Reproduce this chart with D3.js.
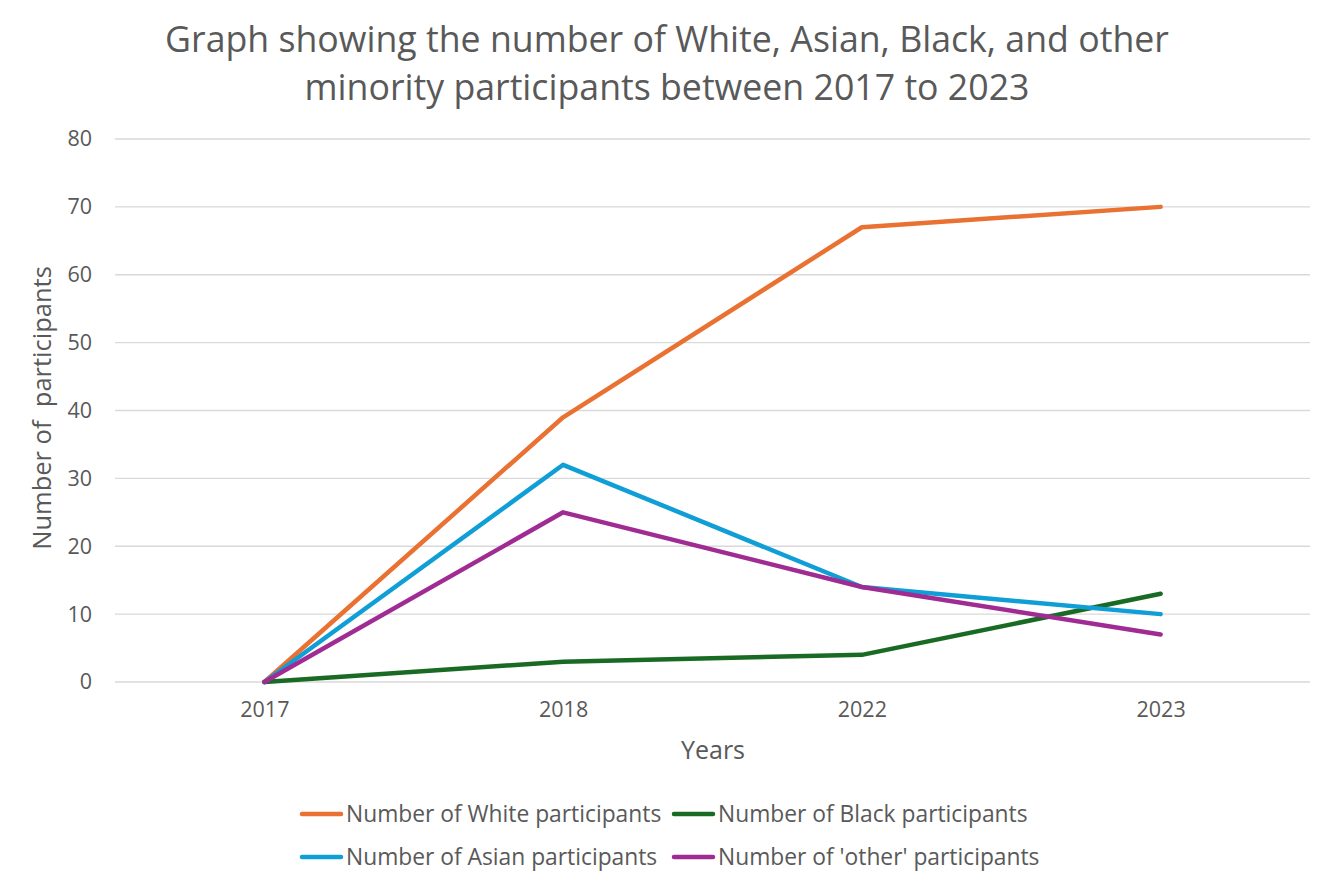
<!DOCTYPE html>
<html>
<head>
<meta charset="utf-8">
<script src="https://cdn.jsdelivr.net/npm/d3@7"></script>
<style>
  body { margin: 0; background: #fff; }
  text { font-family: "Open Sans", "Liberation Sans", sans-serif; fill: #595959; }
</style>
</head>
<body>
<svg id="chart" width="1334" height="889"></svg>
<script>
// categories and series
var years = ["2017", "2018", "2022", "2023"];
var white = [0, 39, 67, 70];
var black = [0, 3, 4, 13];
var asian = [0, 32, 14, 10];
var other = [0, 25, 14, 7];
var yTicks = [0, 10, 20, 30, 40, 50, 60, 70, 80];
var seriesNames = ["Number of White participants", "Number of Black participants",
                   "Number of Asian participants", "Number of 'other' participants"];
var seriesColors = ["#E97132", "#196B24", "#0F9ED5", "#A02B93"];

var svg = d3.select("#chart");
var plotLeft = 115, plotRight = 1310, plotTop = 139, plotBottom = 682;
var fontStack = "\"Open Sans\", \"Liberation Sans\", sans-serif";

var x = d3.scalePoint().domain(years).range([plotLeft, plotRight]).padding(0.5);
var y = d3.scaleLinear().domain([0, 80]).range([plotBottom, plotTop]);

// title
svg.append("text").attr("x", 667).attr("y", 52).attr("text-anchor", "middle")
    .style("font-size", "35.7px").text("Graph showing the number of White, Asian, Black, and other");
svg.append("text").attr("x", 667).attr("y", 100).attr("text-anchor", "middle")
    .style("font-size", "35.7px").text("minority participants between 2017 to 2023");

// gridlines
svg.append("g").selectAll("line").data(yTicks).enter().append("line")
    .attr("x1", plotLeft).attr("x2", plotRight)
    .attr("y1", function (d) { return y(d); }).attr("y2", function (d) { return y(d); })
    .attr("stroke", "#d9d9d9").attr("stroke-width", 1.3);

// y axis labels
var yAxis = svg.append("g").attr("transform", "translate(" + plotLeft + ",0)")
    .call(d3.axisLeft(y).tickValues(yTicks).tickSize(0).tickPadding(23));
yAxis.select(".domain").remove();
yAxis.selectAll("text").style("font-size", "21.5px").attr("fill", "#595959")
    .style("font-family", fontStack);

// x axis labels
var xAxis = svg.append("g").attr("transform", "translate(0," + plotBottom + ")")
    .call(d3.axisBottom(x).tickSize(0).tickPadding(20));
xAxis.select(".domain").remove();
xAxis.selectAll("text").style("font-size", "21.5px").attr("fill", "#595959")
    .style("font-family", fontStack);

// axis titles
svg.append("text").attr("x", 713).attr("y", 759).attr("text-anchor", "middle")
    .style("font-size", "25px").text("Years");
svg.append("text").attr("transform", "translate(51,408) rotate(-90)").attr("text-anchor", "middle")
    .style("font-size", "25.5px").style("white-space", "pre").text("Number of  participants");

// lines
var line = d3.line().x(function (d, i) { return x(years[i]); }).y(function (d) { return y(d); });
var allSeries = [white, black, asian, other];
svg.append("g").selectAll("path").data(allSeries).enter().append("path")
    .attr("d", line).attr("fill", "none")
    .attr("stroke", function (d, i) { return seriesColors[i]; })
    .attr("stroke-width", 4.5).attr("stroke-linejoin", "round").attr("stroke-linecap", "round");

// legend
var legendPos = [[300, 814], [672, 814], [300, 857], [672, 857]];
var legend = svg.append("g").selectAll("g").data(seriesNames).enter().append("g")
    .attr("transform", function (d, i) { return "translate(" + legendPos[i][0] + "," + legendPos[i][1] + ")"; });
legend.append("line").attr("x1", 2).attr("x2", 41).attr("y1", 0).attr("y2", 0)
    .attr("stroke", function (d, i) { return seriesColors[i]; })
    .attr("stroke-width", 4.5).attr("stroke-linecap", "round");
legend.append("text").attr("x", 46).attr("y", 7.5).style("font-size", "22.8px")
    .text(function (d) { return d; });
</script>
</body>
</html>
